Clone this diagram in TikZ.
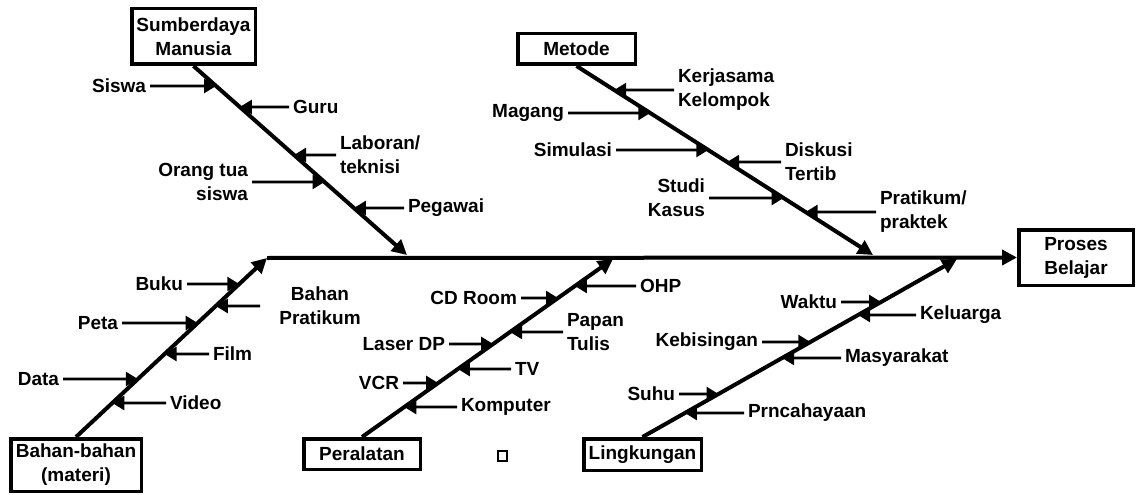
\documentclass[tikz,border=0pt]{standalone}
\usepackage{fontspec}
\setmainfont{Liberation Sans}
\usetikzlibrary{arrows.meta,calc}
\newcommand\lblfont{\fontsize{19}{24}\selectfont\bfseries}
\begin{document}
\begin{tikzpicture}[x=1pt,y=-1pt,
  box/.style={draw, line width=3.5pt, inner sep=0pt, align=center, font=\lblfont},
  lbl/.style={inner sep=0pt, outer sep=4pt, font=\lblfont},
  bone/.style={line width=4pt, -{Triangle[length=15pt,width=15pt]}},
  rib/.style={line width=2.6pt, -{Triangle[length=12pt,width=14pt]}}]
\useasboundingbox (0,0) rectangle (1136,495);
% boxes
\node[box, minimum width=123.5pt, minimum height=55.5pt] (sm) at (193.5,36.5) {Sumberdaya\\Manusia};
\node[box, minimum width=117.5pt, minimum height=30.5pt] (met) at (576.5,49) {Metode};
\node[box, minimum width=114.5pt, minimum height=55.5pt] (pb) at (1076,257.5) {Proses\\Belajar};
\node[box, minimum width=130.5pt, minimum height=52.5pt] (bhn) at (76,465) {Bahan-bahan\\(materi)};
\node[box, minimum width=116.5pt, minimum height=30.5pt] (per) at (362,454) {Peralatan};
\node[box, minimum width=117.5pt, minimum height=31.5pt] (lin) at (642.5,454.5) {Lingkungan};
\node[draw, line width=2.3pt, minimum width=8.5pt, minimum height=9.5pt, inner sep=0pt] (sq) at (502.5,456) {};
% bone anchors
\coordinate (smS) at (sm.south);
\coordinate (smT) at (407,255);
\coordinate (metS) at (met.south);
\coordinate (metT) at (873,255);
\coordinate (spS) at (267,258);
\coordinate (bhnS) at (bhn.north);
\coordinate (perS) at (per.north);
\coordinate (perT) at (613,259);
\coordinate (linS) at (lin.north);
\coordinate (linT) at (957,259);
% spine and bones
\draw[bone] (spS) -- (pb.west);
\draw[bone] (smS) -- (smT);
\draw[bone] (metS) -- (metT);
\draw[bone] (bhnS) -- (spS);
\draw[bone] (perS) -- (perT);
\draw[bone] (linS) -- (linT);
% Sumberdaya Manusia
\node[lbl, anchor=east] (siswa) at (150,86) {Siswa};
\node[lbl, anchor=west] (guru) at (289,107) {Guru};
\node[lbl, anchor=west, align=left] (lab) at (336,155) {Laboran/\\teknisi};
\node[lbl, anchor=east, align=right] (ortu) at (252,182) {Orang tua\\siswa};
\node[lbl, anchor=west] (peg) at (404,208) {Pegawai};
\coordinate (p1) at (intersection of smS--smT and 0,86--1,86);
\coordinate (p2) at (intersection of smS--smT and 0,107--1,107);
\coordinate (p3) at (intersection of smS--smT and 0,155--1,155);
\coordinate (p4) at (intersection of smS--smT and 0,182--1,182);
\coordinate (p5) at (intersection of smS--smT and 0,208--1,208);
\draw[rib] (siswa) -- (p1);
\draw[rib] (guru) -- (p2);
\draw[rib] (lab) -- (p3);
\draw[rib] (ortu) -- (p4);
\draw[rib] (peg) -- (p5);
% Metode
\node[lbl, anchor=west, align=left] (kerja) at (674,90) {Kerjasama\\Kelompok};
\node[lbl, anchor=east] (magang) at (568,113) {Magang};
\node[lbl, anchor=east] (simul) at (616,150) {Simulasi};
\node[lbl, anchor=west, align=left] (disk) at (781,162) {Diskusi\\Tertib};
\node[lbl, anchor=east, align=right] (studi) at (709,198) {Studi\\Kasus};
\node[lbl, anchor=west, align=left] (prak) at (876,212) {Pratikum/\\praktek};
\coordinate (m1) at (intersection of metS--metT and 0,90--1,90);
\coordinate (m2) at (intersection of metS--metT and 0,113--1,113);
\coordinate (m3) at (intersection of metS--metT and 0,150--1,150);
\coordinate (m4) at (intersection of metS--metT and 0,162--1,162);
\coordinate (m5) at (intersection of metS--metT and 0,198--1,198);
\coordinate (m6) at (intersection of metS--metT and 0,212--1,212);
\draw[rib] (kerja) -- (m1);
\draw[rib] (magang) -- (m2);
\draw[rib] (simul) -- (m3);
\draw[rib] (disk) -- (m4);
\draw[rib] (studi) -- (m5);
\draw[rib] (prak) -- (m6);
% Bahan-bahan
\node[lbl, anchor=east] (buku) at (187,284) {Buku};
\node[lbl, align=center] (bprak) at (320,306) {Bahan\\Pratikum};
\coordinate (bpS) at (260,306);
\node[lbl, anchor=east] (peta) at (122,323) {Peta};
\node[lbl, anchor=west] (film) at (209,354) {Film};
\node[lbl, anchor=east] (data) at (63,379) {Data};
\node[lbl, anchor=west] (video) at (166,403) {Video};
\coordinate (b1) at (intersection of bhnS--spS and 0,284--1,284);
\coordinate (b2) at (intersection of bhnS--spS and 0,306--1,306);
\coordinate (b3) at (intersection of bhnS--spS and 0,323--1,323);
\coordinate (b4) at (intersection of bhnS--spS and 0,354--1,354);
\coordinate (b5) at (intersection of bhnS--spS and 0,379--1,379);
\coordinate (b6) at (intersection of bhnS--spS and 0,403--1,403);
\draw[rib] (buku) -- (b1);
\draw[rib] (bpS) -- (b2);
\draw[rib] (peta) -- (b3);
\draw[rib] (film) -- (b4);
\draw[rib] (data) -- (b5);
\draw[rib] (video) -- (b6);
% Peralatan
\node[lbl, anchor=west] (ohp) at (636,286) {OHP};
\node[lbl, anchor=east] (cd) at (521,298) {CD Room};
\node[lbl, anchor=west, align=left] (papan) at (563,332) {Papan\\Tulis};
\node[lbl, anchor=east] (laser) at (449,344) {Laser DP};
\node[lbl, anchor=west] (tv) at (511,369) {TV};
\node[lbl, anchor=east] (vcr) at (403,383) {VCR};
\node[lbl, anchor=west] (komp) at (457,407) {Komputer};
\coordinate (q1) at (intersection of perS--perT and 0,286--1,286);
\coordinate (q2) at (intersection of perS--perT and 0,298--1,298);
\coordinate (q3) at (intersection of perS--perT and 0,332--1,332);
\coordinate (q4) at (intersection of perS--perT and 0,344--1,344);
\coordinate (q5) at (intersection of perS--perT and 0,369--1,369);
\coordinate (q6) at (intersection of perS--perT and 0,383--1,383);
\coordinate (q7) at (intersection of perS--perT and 0,407--1,407);
\draw[rib] (ohp) -- (q1);
\draw[rib] (cd) -- (q2);
\draw[rib] (papan) -- (q3);
\draw[rib] (laser) -- (q4);
\draw[rib] (tv) -- (q5);
\draw[rib] (vcr) -- (q6);
\draw[rib] (komp) -- (q7);
% Lingkungan
\node[lbl, anchor=east] (waktu) at (841,302) {Waktu};
\node[lbl, anchor=west] (kel) at (916,315) {Keluarga};
\node[lbl, anchor=east] (kebis) at (762,342) {Kebisingan};
\node[lbl, anchor=west] (masy) at (841,358) {Masyarakat};
\node[lbl, anchor=east] (suhu) at (679,394) {Suhu};
\node[lbl, anchor=west] (penc) at (744,413) {Prncahayaan};
\coordinate (l1) at (intersection of linS--linT and 0,302--1,302);
\coordinate (l2) at (intersection of linS--linT and 0,315--1,315);
\coordinate (l3) at (intersection of linS--linT and 0,342--1,342);
\coordinate (l4) at (intersection of linS--linT and 0,358--1,358);
\coordinate (l5) at (intersection of linS--linT and 0,394--1,394);
\coordinate (l6) at (intersection of linS--linT and 0,413--1,413);
\draw[rib] (waktu) -- (l1);
\draw[rib] (kel) -- (l2);
\draw[rib] (kebis) -- (l3);
\draw[rib] (masy) -- (l4);
\draw[rib] (suhu) -- (l5);
\draw[rib] (penc) -- (l6);
\end{tikzpicture}
\end{document}
